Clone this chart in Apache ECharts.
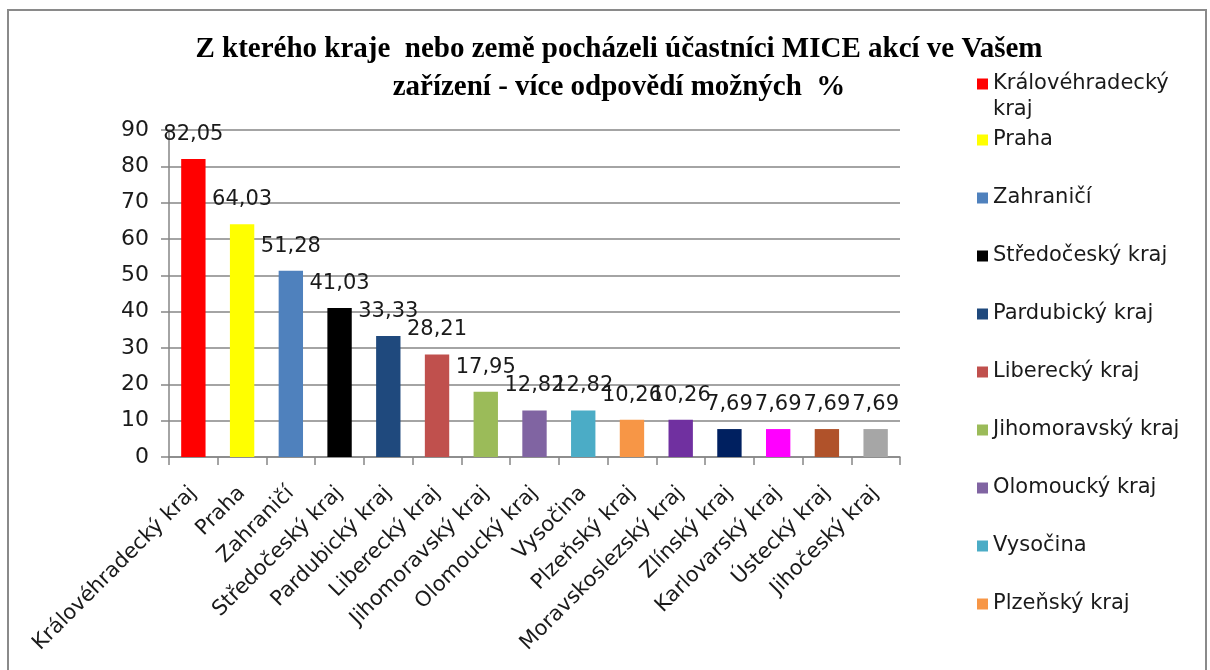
<!DOCTYPE html>
<html>
<head>
<meta charset="utf-8">
<script src="https://cdn.jsdelivr.net/npm/echarts@6/dist/echarts.min.js"></script>
<style>
  html, body { margin: 0; padding: 0; background: #fff; }
  #chart { width: 1210px; height: 670px; }
</style>
</head>
<body>
<div id="chart"></div>
<script>
const categories = ['Královéhradecký kraj', 'Praha', 'Zahraničí', 'Středočeský kraj', 'Pardubický kraj',
  'Liberecký kraj', 'Jihomoravský kraj', 'Olomoucký kraj', 'Vysočina', 'Plzeňský kraj',
  'Moravskoslezský kraj', 'Zlínský kraj', 'Karlovarský kraj', 'Ústecký kraj', 'Jihočeský kraj']
const values = [82.05, 64.03, 51.28, 41.03, 33.33, 28.21, 17.95, 12.82, 12.82, 10.26, 10.26, 7.69, 7.69, 7.69, 7.69]
const colors = ['#FF0000', '#FFFF00', '#4F81BD', '#000000', '#1F497D', '#C0504D', '#9BBB59', '#8064A2',
  '#4BACC6', '#F79646', '#7030A0', '#002060', '#FF00FF', '#B0522A', '#A6A6A6']
const yTicks = { min: 0, max: 90, interval: 10 }

const font = 'DejaVu Sans'

// jedna série na kraj, aby legenda měla barvy
const series = categories.map((name, i) => ({
  name: name,
  type: 'bar',
  stack: 'all',
  barWidth: '50%',
  itemStyle: { color: colors[i] },
  label: {
    show: true,
    position: 'top',
    distance: 14,
    fontFamily: font,
    fontSize: 21,
    color: '#1a1a1a',
    formatter: (p) => p.value == null ? '' : String(p.value).replace('.', ',')
  },
  data: categories.map((c, j) => (j === i ? values[i] : null))
}))

const chart = echarts.init(document.getElementById('chart'))
chart.setOption({
  animation: false,
  title: {
    text: 'Z kterého kraje  nebo země pocházeli účastníci MICE akcí ve Vašem\nzařízení - více odpovědí možných  %',
    left: 614,
    top: 26,
    textAlign: 'center',
    textStyle: {
      fontFamily: 'Liberation Serif',
      fontWeight: 'bold',
      fontSize: 29,
      lineHeight: 38,
      color: '#000'
    }
  },
  legend: [
    {
      // první položka má dva řádky, značka je u prvního (prázdný řádek nahoře ji posune)
      data: [categories[0]],
      orient: 'vertical',
      left: 972,
      top: 40,
      icon: 'rect',
      itemWidth: 11,
      itemHeight: 11,
      formatter: (n) => ' \n' + n.replace(' ', '\n'),
      selectedMode: false,
      textStyle: { fontFamily: font, fontSize: 21, lineHeight: 26, color: '#1a1a1a' }
    },
    {
      data: categories.slice(1, 10),
      orient: 'vertical',
      left: 972,
      top: 123,
      icon: 'rect',
      itemWidth: 11,
      itemHeight: 11,
      itemGap: 34,
      selectedMode: false,
      textStyle: { fontFamily: font, fontSize: 21, lineHeight: 24, color: '#1a1a1a' }
    }
  ],
  grid: { left: 169, right: 310, top: 130, bottom: 213 },
  xAxis: {
    type: 'category',
    data: categories,
    axisLine: { lineStyle: { color: '#868686', width: 1.5 } },
    axisTick: { show: true, length: 8, lineStyle: { color: '#868686', width: 1.5 } },
    axisLabel: {
      rotate: 45,
      interval: 0,
      margin: 33,
      fontFamily: font,
      fontSize: 21,
      color: '#1a1a1a'
    }
  },
  yAxis: {
    type: 'value',
    min: yTicks.min,
    max: yTicks.max,
    interval: yTicks.interval,
    axisLine: { show: true, lineStyle: { color: '#868686', width: 1.5 } },
    axisTick: { show: true, length: 8, lineStyle: { color: '#868686', width: 1.5 } },
    axisLabel: { fontFamily: font, fontSize: 22, color: '#1a1a1a', margin: 20 },
    splitLine: { lineStyle: { color: '#868686', width: 1.5 } }
  },
  graphic: [
    {
      type: 'rect',
      shape: { x: 8, y: 10, width: 1198, height: 700 },
      style: { fill: 'none', stroke: '#8a8a8a', lineWidth: 2 },
      silent: true
    }
  ],
  series: series
})
</script>
</body>
</html>
